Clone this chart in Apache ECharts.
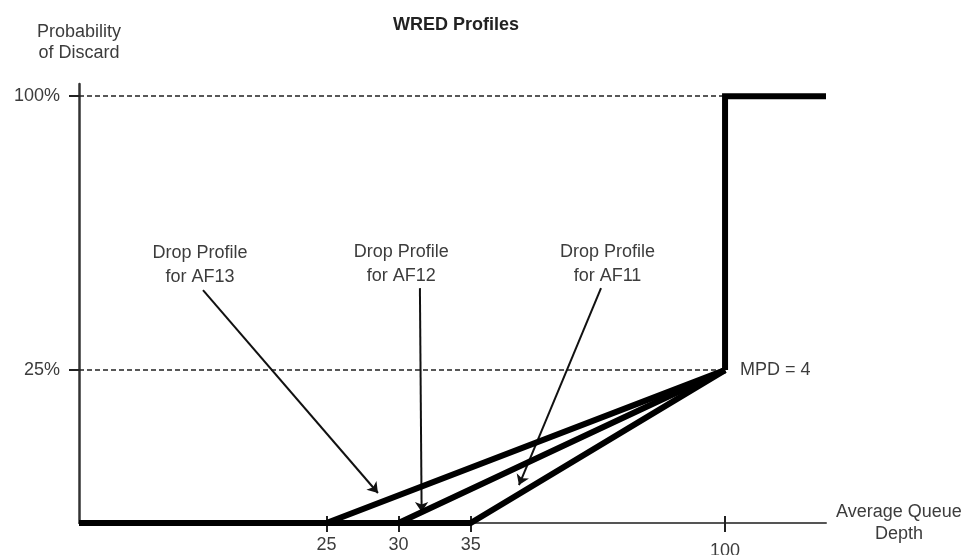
<!DOCTYPE html>
<html>
<head>
<meta charset="utf-8">
<script src="https://cdn.jsdelivr.net/npm/echarts@6/dist/echarts.min.js"></script>
<style>
  html, body { margin: 0; padding: 0; background: #fff; }
  #chart { width: 968px; height: 555px; }
</style>
</head>
<body>
<div id="chart"></div>
<script>
// ---- data ----
const queueDepthTicks = [25, 30, 35, 100];
const probabilityTicks = [25, 100];
const profileNames = ['AF13', 'AF12', 'AF11'];
const minThresholds = [25, 30, 35];
const maxThreshold = 100;
const maxDropProbability = 25;      // MPD = 4  ->  1/4 = 25%
const fullDropProbability = 100;
const depthAxisEnd = 107;
const mpdLabel = 'MPD = 4';

// ---- layout / config (schematic axis breaks) ----
const FONT = 'Liberation Sans, Arial, Helvetica, sans-serif';
const TXT = '#3c3c3c';

const xBreaks = [{ start: 5, end: 20, gap: 7.16 }, { start: 40, end: 95, gap: 7.64 }];
const yBreaks = [{ start: 30, end: 95, gap: 34.77 }];

// annotation anchors (data space): label centre, arrow start, arrow tip
const annotations = [
  { name: 'AF13', label: [12.1, 52.9], from: [12.54, 45.1], to: [28.57, 4.9] },
  { name: 'AF12', label: [30.18, 53.0], from: [31.48, 45.7], to: [31.6, 1.8] },
  { name: 'AF11', label: [72.3, 53.0], from: [69.07, 45.7], to: [38.35, 6.2] }
];

const thick = { color: '#000', width: 6, join: 'miter', cap: 'butt' };

const series = profileNames.map((n, i) => ({
  name: 'Drop Profile for ' + n,
  type: 'line',
  data: [[0, 0], [minThresholds[i], 0], [maxThreshold, maxDropProbability]],
  symbol: 'none',
  clip: false,
  lineStyle: thick,
  z: 5,
  silent: true
}));

series.push({
  name: 'Full drop',
  type: 'line',
  data: [[maxThreshold, maxDropProbability], [maxThreshold, fullDropProbability], [depthAxisEnd, fullDropProbability]],
  symbol: 'none',
  clip: false,
  lineStyle: thick,
  z: 5,
  silent: true,
  markPoint: {
    silent: true,
    symbolSize: 0,
    data: [{
      coord: [maxThreshold, maxDropProbability],
      label: { show: true, position: 'right', distance: 15, formatter: mpdLabel,
               fontSize: 18, fontFamily: FONT, color: TXT }
    }].concat(annotations.map(a => ({
      coord: a.label,
      label: { show: true, position: 'inside', formatter: 'Drop Profile\nfor ' + a.name,
               fontSize: 18, lineHeight: 24, fontFamily: FONT, color: TXT, align: 'center' }
    })))
  }
});

series.push({
  name: 'guides',
  type: 'line',
  data: [],
  z: 2,
  silent: true,
  markLine: {
    silent: true,
    symbol: 'none',
    animation: false,
    label: { show: false },
    lineStyle: { color: '#222', width: 1.5, type: [5, 3] },
    data: probabilityTicks.map(p => [{ coord: [0, p] }, { coord: [maxThreshold, p] }])
  }
});

series.push({
  name: 'arrows',
  type: 'line',
  data: [],
  z: 6,
  silent: true,
  markLine: {
    silent: true,
    symbol: ['none', 'arrow'],
    symbolSize: 10,
    animation: false,
    label: { show: false },
    lineStyle: { color: '#111', width: 2, type: 'solid' },
    data: annotations.map(a => [{ coord: a.from }, { coord: a.to }])
  }
});

const xBase = { type: 'value', min: 0, max: depthAxisEnd, breaks: xBreaks, breakArea: { show: false },
                position: 'bottom', splitLine: { show: false } };
const yBase = { type: 'value', min: 0, max: 102, breaks: yBreaks, breakArea: { show: false },
                position: 'left', splitLine: { show: false } };

const chart = echarts.init(document.getElementById('chart'), null, { renderer: 'canvas' });
chart.setOption({
  animation: false,
  backgroundColor: '#fff',
  textStyle: { fontFamily: FONT },
  title: {
    text: 'WRED Profiles',
    left: 456, top: 16, textAlign: 'center', padding: 0,
    textStyle: { fontSize: 18, fontWeight: 'bold', color: '#222', fontFamily: FONT }
  },
  grid: { left: 79, right: 142, top: 84, bottom: 32, outerBoundsMode: 'none', containLabel: false },
  xAxis: [
    Object.assign({}, xBase, {
      name: 'Average Queue\nDepth',
      nameLocation: 'end', nameGap: 73,
      nameTextStyle: { fontSize: 18, lineHeight: 22, color: TXT, align: 'center', fontFamily: FONT },
      axisLine: { show: false },
      axisTick: { show: true, customValues: queueDepthTicks, length: 9, lineStyle: { color: '#222', width: 2 } },
      axisLabel: {
        show: true, customValues: queueDepthTicks, margin: 13, fontSize: 18, color: TXT, fontFamily: FONT,
        formatter: v => v === maxThreshold ? '{lo|' + v + '}' : String(v),
        rich: { lo: { padding: [6, 0, 0, 0], fontSize: 18, color: TXT, fontFamily: FONT } }
      }
    }),
    Object.assign({}, xBase, {
      axisLine: { show: false },
      axisTick: { show: true, inside: true, customValues: queueDepthTicks, length: 7, lineStyle: { color: '#222', width: 2 } },
      axisLabel: { show: false }
    }),
    { type: 'value', min: 0, max: 1, position: 'bottom', splitLine: { show: false },
      axisLine: { show: true, lineStyle: { color: '#555', width: 2 } },
      axisTick: { show: false }, axisLabel: { show: false } }
  ],
  yAxis: [
    Object.assign({}, yBase, {
      name: 'Probability\nof Discard',
      nameLocation: 'end', nameGap: 20,
      nameTextStyle: { fontSize: 18, lineHeight: 21, color: TXT, align: 'center', fontFamily: FONT },
      axisLine: { show: false },
      axisTick: { show: true, customValues: probabilityTicks, length: 10, lineStyle: { color: '#222', width: 2 } },
      axisLabel: { show: true, customValues: probabilityTicks, margin: 19, fontSize: 18, color: TXT,
                   fontFamily: FONT, formatter: v => v + '%' }
    }),
    { type: 'value', min: 0, max: 1, position: 'left', splitLine: { show: false },
      axisLine: { show: true, lineStyle: { color: '#333', width: 2.5 } },
      axisTick: { show: false }, axisLabel: { show: false } }
  ],
  series: series
});
</script>
</body>
</html>
